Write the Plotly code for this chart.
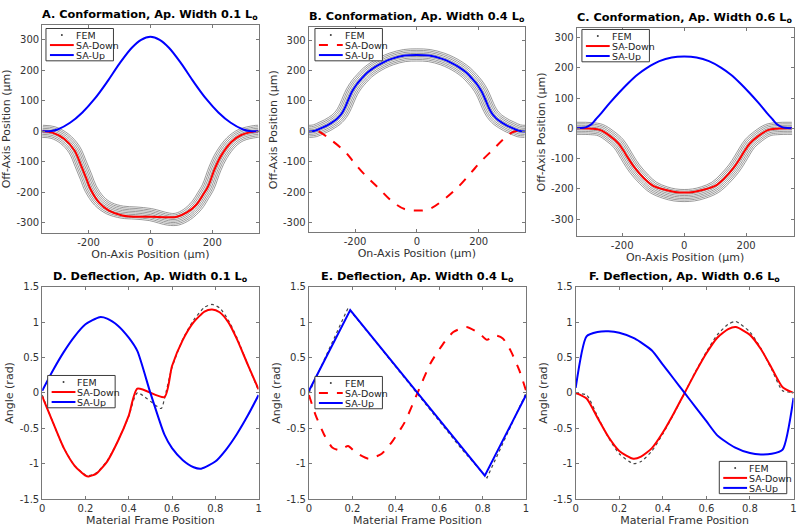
import numpy as np
import plotly.graph_objects as go

FONT = "DejaVu Sans"
W, H = 800, 532

# ---------------- DATA ----------------
# Panel A: Conformation, aperture width 0.1 Lo  (um)
a_up_x = [-350, -320, -300, -260, -220, -180, -140, -100, -60, -30, 0, 30, 60, 100, 140, 180, 220, 260, 300, 320, 350]
a_up_y = [0, 1, 6, 28, 62, 107, 162, 222, 274, 300, 310, 300, 274, 222, 162, 107, 62, 28, 6, 1, 0]
a_down_x = [-350, -315, -278, -246, -225, -208, -193, -166, -134, -91, -48, 0, 59, 86, 118, 150, 171, 187, 209, 230, 262, 294, 337, 350]
a_down_y = [0, -5, -25, -62, -110, -153, -191, -234, -260, -276, -280, -280, -282, -280, -266, -239, -207, -180, -121, -78, -35, -12, -1, 0]
a_fem_x = [-350, -315, -278, -246, -225, -208, -193, -166, -134, -91, -48, 0, 59, 86, 118, 150, 171, 187, 209, 230, 262, 294, 337, 350]
a_fem_y = [0, -4, -24, -60, -108, -150, -188, -228, -252, -265, -268, -273, -288, -288, -273, -243, -210, -182, -122, -78, -35, -12, -1, 0]

# Panel B: aperture width 0.4 Lo
b_up_x = [-350, -330, -307, -290, -275, -262, -250, -240, -230, -220, -210, -195, -179, -160, -136, -110, -82, -40, 0,
          40, 82, 110, 136, 160, 179, 195, 210, 220, 230, 240, 250, 262, 275, 290, 307, 330, 350]
b_up_y = [0, 2, 12, 20, 29, 38, 50, 64, 84, 108, 130, 154, 173, 193, 211, 226, 238, 249, 251,
          249, 238, 226, 211, 193, 173, 154, 130, 108, 84, 64, 50, 38, 29, 20, 12, 2, 0]
b_down_x = [-318, -312, -275, -232, -205, -168, -125, -82, -40, 0, 40, 82, 131, 174, 206, 249, 281, 308, 330]
b_down_y = [0, -3, -30, -67, -100, -143, -185, -228, -255, -260, -255, -228, -185, -137, -100, -57, -25, -3, 3]
b_fem_x = [-350, -330, -307, -290, -275, -262, -250, -240, -230, -220, -210, -195, -179, -160, -136, -110, -82, -40, 0,
           40, 82, 110, 136, 160, 179, 195, 210, 220, 230, 240, 250, 262, 275, 290, 307, 330, 350]
b_fem_y = [0, 2, 12, 20, 29, 38, 50, 64, 84, 108, 130, 154, 173, 193, 211, 226, 238, 249, 251,
           249, 238, 226, 211, 193, 173, 154, 130, 108, 84, 64, 50, 38, 29, 20, 12, 2, 0]

# Panel C: aperture width 0.6 Lo
c_up_x = [-348, -325, -314, -300, -285, -266, -240, -212, -180, -150, -120, -80, -40, 0,
          40, 80, 120, 150, 180, 212, 240, 266, 285, 300, 314, 325, 348]
c_up_y = [0, 2, 5, 13, 30, 52, 84, 116, 150, 178, 200, 222, 234, 237,
          234, 222, 200, 178, 150, 116, 84, 52, 30, 13, 5, 2, 0]
c_down_x = [-348, -300, -270, -240, -212, -195, -180, -160, -130, -100, -62, -30, 0, 30, 62, 100, 130, 160, 180, 195, 212, 240, 270, 300, 348]
c_down_y = [0, -1, -6, -25, -50, -75, -100, -130, -165, -190, -203, -210, -212, -210, -203, -190, -165, -130, -100, -75, -50, -25, -6, -1, 0]
c_fem_x = [-348, -300, -270, -240, -212, -195, -180, -160, -130, -100, -62, -30, 0, 30, 62, 100, 130, 160, 180, 195, 212, 240, 270, 300, 348]
c_fem_y = [0, -1, -6, -25, -50, -76, -102, -133, -168, -195, -212, -220, -222, -220, -212, -195, -168, -133, -102, -76, -50, -25, -6, -1, 0]

# FEM mesh layers: offsets across the thickness (um)
fem_layer_offsets = [-20, -15, -10, -5, 0, 5, 10, 15, 20]

# Panel D: Deflection, aperture width 0.1 Lo (rad)
d_s_up = [0, 0.05, 0.1, 0.15, 0.2, 0.265, 0.3, 0.35, 0.4, 0.44, 0.5, 0.565, 0.6, 0.65, 0.7, 0.735, 0.8, 0.85, 0.9, 0.95, 1.0]
d_up = [0.03, 0.32, 0.58, 0.80, 0.97, 1.07, 1.05, 0.95, 0.78, 0.59, 0.0, -0.59, -0.78, -0.95, -1.05, -1.07, -0.97, -0.80, -0.58, -0.32, -0.03]
d_s_down = [0, 0.05, 0.1, 0.15, 0.2, 0.215, 0.25, 0.3, 0.35, 0.4, 0.44, 0.565, 0.6, 0.65, 0.7, 0.75, 0.785, 0.82, 0.86, 0.9, 0.95, 1.0]
d_down = [-0.05, -0.42, -0.78, -1.03, -1.17, -1.18, -1.14, -0.97, -0.68, -0.32, 0.06, -0.06, 0.38, 0.75, 1.00, 1.15, 1.18, 1.14, 1.00, 0.76, 0.40, 0.05]
d_s_fem = [0, 0.05, 0.1, 0.15, 0.2, 0.215, 0.25, 0.3, 0.35, 0.4, 0.44, 0.55, 0.565, 0.6, 0.65, 0.7, 0.75, 0.785, 0.82, 0.86, 0.9, 0.95, 1.0]
d_fem = [-0.03, -0.42, -0.78, -1.03, -1.16, -1.17, -1.13, -0.96, -0.68, -0.33, 0.0, -0.22, -0.08, 0.36, 0.76, 1.03, 1.21, 1.25, 1.20, 1.03, 0.78, 0.40, 0.03]

# Panel E: aperture width 0.4 Lo
e_s_up = [0, 0.19, 0.5, 0.81, 1.0]
e_up = [0.03, 1.17, 0.0, -1.17, -0.03]
e_s_down = [0, 0.03, 0.07, 0.107, 0.14, 0.18, 0.215, 0.275, 0.335, 0.385, 0.44, 0.5, 0.56, 0.615, 0.665, 0.725, 0.785, 0.82, 0.86, 0.893, 0.93, 0.97, 1.0]
e_down = [-0.03, -0.31, -0.59, -0.77, -0.81, -0.75, -0.84, -0.93, -0.86, -0.68, -0.42, 0.0, 0.42, 0.68, 0.86, 0.93, 0.84, 0.75, 0.81, 0.77, 0.59, 0.31, 0.03]
e_s_fem = [0, 0.18, 0.3, 0.5, 0.7, 0.82, 1.0]
e_fem = [0.0, 1.2, 0.75, -0.02, -0.78, -1.2, 0.0]

# Panel F: aperture width 0.6 Lo
f_s_up = [0, 0.05, 0.1, 0.15, 0.2, 0.27, 0.35, 0.4, 0.45, 0.5, 0.55, 0.6, 0.65, 0.73, 0.8, 0.85, 0.9, 0.95, 1.0]
f_up = [0.07, 0.80, 0.86, 0.87, 0.85, 0.77, 0.60, 0.40, 0.20, 0.0, -0.20, -0.40, -0.60, -0.77, -0.85, -0.87, -0.86, -0.80, -0.07]
f_s_down = [0, 0.05, 0.1, 0.15, 0.2, 0.265, 0.3, 0.35, 0.4, 0.45, 0.5, 0.55, 0.6, 0.65, 0.7, 0.735, 0.8, 0.85, 0.9, 0.95, 1.0]
f_down = [0.0, -0.08, -0.35, -0.62, -0.82, -0.93, -0.90, -0.78, -0.56, -0.29, 0.0, 0.29, 0.56, 0.78, 0.90, 0.93, 0.82, 0.62, 0.35, 0.08, 0.0]
f_s_fem = [0, 0.05, 0.1, 0.15, 0.2, 0.265, 0.3, 0.35, 0.4, 0.45, 0.5, 0.55, 0.6, 0.65, 0.7, 0.735, 0.8, 0.85, 0.9, 0.95, 1.0]
f_fem = [-0.01, -0.03, -0.33, -0.63, -0.86, -1.0, -0.97, -0.82, -0.58, -0.30, 0.0, 0.30, 0.58, 0.82, 0.97, 1.01, 0.86, 0.63, 0.33, 0.03, 0.01]

titles = ["A. Conformation, Ap. Width 0.1 L<sub>o</sub>",
          "B. Conformation, Ap. Width 0.4 L<sub>o</sub>",
          "C. Conformation, Ap. Width 0.6 L<sub>o</sub>",
          "D. Deflection, Ap. Width 0.1 L<sub>o</sub>",
          "E. Deflection, Ap. Width 0.4 L<sub>o</sub>",
          "F. Deflection, Ap. Width 0.6 L<sub>o</sub>"]
legend_labels = ["FEM", "SA-Down", "SA-Up"]

conf_xticks = [-200, 0, 200]
conf_xtext = ["-200", "0", "200"]
conf_yticks = [-300, -200, -100, 0, 100, 200, 300]
conf_ytext = ["-300", "-200", "-100", "0", "100", "200", "300"]
defl_xticks = [0, 0.2, 0.4, 0.6, 0.8, 1]
defl_xtext = ["0", "0.2", "0.4", "0.6", "0.8", "1"]
defl_yticks = [-1.5, -1, -0.5, 0, 0.5, 1, 1.5]
defl_ytext = ["-1.5", "-1", "-0.5", "0", "0.5", "1", "1.5"]

# ---------------- LAYOUT GEOMETRY (pixels) ----------------
boxes = [  # (left, right, top, bottom)
    (39.5, 257.5, 20, 233),
    (308, 526, 22.7, 232),
    (578, 796.5, 23.3, 236),
    (39.5, 257.5, 287.7, 504.5),
    (308.3, 527, 287.7, 504.5),
    (577, 796.5, 287.7, 504.5),
]
ranges = [
    ([-350, 350], [-334, 350]),
    ([-350, 350], [-331, 342]),
    ([-347, 353], [-356, 332]),
    ([0, 1], [-1.5, 1.5]),
    ([0, 1], [-1.5, 1.5]),
    ([0, 1], [-1.5, 1.5]),
]
legend_pos = [(43.3, 24), (314.3, 24), (583.3, 25), (45, 378.3), (314.3, 379.3), (721.7, 466)]

RED = "rgb(255,0,0)"
BLUE = "rgb(0,0,255)"
FEMC = "rgb(110,110,110)"
AXC = "rgb(120,120,120)"
TXT = "rgb(50,50,50)"


def px(v):
    return v / W


def py(v):
    return 1 - v / H


def offset_layers(xs, ys, offsets):
    x = np.asarray(xs, float)
    y = np.asarray(ys, float)
    tx = np.gradient(x)
    ty = np.gradient(y)
    n = np.hypot(tx, ty)
    nx, ny = -ty / n, tx / n
    return [(x + o * nx, y + o * ny) for o in offsets]


fig = go.Figure()


def ax(i):
    return ("x" if i == 0 else f"x{i+1}"), ("y" if i == 0 else f"y{i+1}")


conf = [
    (a_fem_x, a_fem_y, a_down_x, a_down_y, "solid", a_up_x, a_up_y),
    (b_fem_x, b_fem_y, b_down_x, b_down_y, "dash", b_up_x, b_up_y),
    (c_fem_x, c_fem_y, c_down_x, c_down_y, "solid", c_up_x, c_up_y),
]
for i, (fx, fy, dx, dy, ddash, ux, uy) in enumerate(conf):
    xa, ya = ax(i)
    for lx, ly in offset_layers(fx, fy, fem_layer_offsets):
        fig.add_trace(go.Scatter(x=lx, y=ly, mode="lines", name="FEM",
                                 line=dict(color=FEMC, width=0.7, shape="spline"),
                                 xaxis=xa, yaxis=ya, showlegend=False, hoverinfo="skip"))
    fig.add_trace(go.Scatter(x=dx, y=dy, mode="lines", name="SA-Down",
                             line=dict(color=RED, width=2, dash=ddash, shape="spline"),
                             xaxis=xa, yaxis=ya, showlegend=False))
    fig.add_trace(go.Scatter(x=ux, y=uy, mode="lines", name="SA-Up",
                             line=dict(color=BLUE, width=2, shape="spline"),
                             xaxis=xa, yaxis=ya, showlegend=False))

defl = [
    (d_s_fem, d_fem, d_s_down, d_down, "solid", d_s_up, d_up, "spline", "spline"),
    (e_s_fem, e_fem, e_s_down, e_down, "dash", e_s_up, e_up, "linear", "linear"),
    (f_s_fem, f_fem, f_s_down, f_down, "solid", f_s_up, f_up, "spline", "spline"),
]
for j, (fx, fy, dx, dy, ddash, ux, uy, sh_fem, sh_up) in enumerate(defl):
    xa, ya = ax(j + 3)
    fig.add_trace(go.Scatter(x=fx, y=fy, mode="lines", name="FEM",
                             line=dict(color="rgb(70,70,70)", width=1.2, dash="dot", shape=sh_fem, smoothing=0.6),
                             xaxis=xa, yaxis=ya, showlegend=False))
    fig.add_trace(go.Scatter(x=dx, y=dy, mode="lines", name="SA-Down",
                             line=dict(color=RED, width=2, dash=ddash, shape="spline", smoothing=0.6),
                             xaxis=xa, yaxis=ya, showlegend=False))
    fig.add_trace(go.Scatter(x=ux, y=uy, mode="lines", name="SA-Up",
                             line=dict(color=BLUE, width=2, shape=sh_up, smoothing=0.6),
                             xaxis=xa, yaxis=ya, showlegend=False))

layout = dict(width=W, height=H, margin=dict(l=0, r=0, t=0, b=0),
              paper_bgcolor="white", plot_bgcolor="white", showlegend=False,
              font=dict(family=FONT, size=10, color=TXT))

for i in range(6):
    l, r, t, b = boxes[i]
    xr, yr = ranges[i]
    xk = "xaxis" if i == 0 else f"xaxis{i+1}"
    yk = "yaxis" if i == 0 else f"yaxis{i+1}"
    xa, ya = ax(i)
    common = dict(showline=True, mirror="ticks", linecolor=AXC, linewidth=1, ticks="inside", ticklen=3,
                  tickcolor=AXC, tickwidth=1, showgrid=False, zeroline=False,
                  tickfont=dict(family=FONT, size=10, color=TXT))
    if i < 3:
        xt, xtt, yt, ytt = conf_xticks, conf_xtext, conf_yticks, conf_ytext
        xtitle = "On-Axis Position (μm)"
        ytitle = "Off-Axis Position (μm)"
    else:
        xt, xtt, yt, ytt = defl_xticks, defl_xtext, defl_yticks, defl_ytext
        xtitle = "Material Frame Position"
        ytitle = "Angle (rad)"
    layout[xk] = dict(domain=[px(l), px(r)], range=xr, anchor=ya, tickvals=xt, ticktext=xtt,
                      title=dict(text=xtitle, font=dict(family=FONT, size=11, color=TXT), standoff=2),
                      **common)
    layout[yk] = dict(domain=[py(b), py(t)], range=yr, anchor=xa, tickvals=yt, ticktext=ytt,
                      title=dict(text=ytitle, font=dict(family=FONT, size=11, color=TXT), standoff=3),
                      **common)

fig.update_layout(**layout)

# Titles
for i in range(6):
    l, r, t, b = boxes[i]
    fig.add_annotation(x=px((l + r) / 2), y=py(t - 1), xref="paper", yref="paper", text=titles[i],
                       showarrow=False, xanchor="center", yanchor="bottom",
                       font=dict(family=FONT, size=11.3, color="black", weight="bold"))

# Legends (MATLAB-style boxes)
styles = [
    [("dot", None, None), ("line", RED, "solid"), ("line", BLUE, "solid")],
    [("dot", None, None), ("line", RED, "dash"), ("line", BLUE, "solid")],
    [("dot", None, None), ("line", RED, "solid"), ("line", BLUE, "solid")],
    [("dot", None, None), ("line", RED, "solid"), ("line", BLUE, "solid")],
    [("dot", None, None), ("line", RED, "dash"), ("line", BLUE, "solid")],
    [("dot", None, None), ("line", RED, "solid"), ("line", BLUE, "solid")],
]
LW, LH = 68, 33
for i in range(6):
    lx, ly = legend_pos[i]
    fig.add_shape(type="rect", xref="paper", yref="paper", x0=px(lx), x1=px(lx + LW), y0=py(ly + LH), y1=py(ly),
                  line=dict(color="rgb(60,60,60)", width=1), fillcolor="white", layer="above")
    for k, (kind, col, dash) in enumerate(styles[i]):
        yc = ly + 6.7 + k * 10.2
        if kind == "dot":
            fig.add_shape(type="circle", xref="paper", yref="paper", x0=px(lx + 15), x1=px(lx + 17),
                          y0=py(yc + 1), y1=py(yc - 1), fillcolor="rgb(60,60,60)", line=dict(width=0), layer="above")
        else:
            fig.add_shape(type="line", xref="paper", yref="paper", x0=px(lx + 4), x1=px(lx + 28),
                          y0=py(yc), y1=py(yc), line=dict(color=col, width=2, dash=dash), layer="above")
        fig.add_annotation(x=px(lx + 29), y=py(yc), xref="paper", yref="paper", text=legend_labels[k],
                           showarrow=False, xanchor="left", yanchor="middle", height=10, borderpad=0,
                           font=dict(family=FONT, size=9.5, color="rgb(30,30,30)"))

fig.write_html("out.html", config={"displayModeBar": False},
               post_script="document.body.style.margin='0';document.body.style.overflow='hidden';")
